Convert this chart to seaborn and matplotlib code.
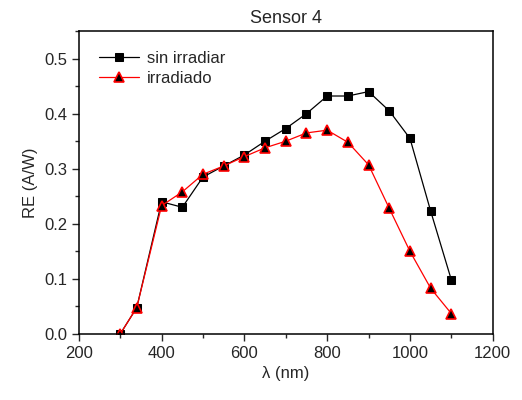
import numpy as np
import pandas as pd
import matplotlib
matplotlib.use("Agg")
import matplotlib.pyplot as plt
import seaborn as sns
from matplotlib.ticker import MultipleLocator

# === data ===
wavelength = [300, 340, 400, 450, 500, 550, 600, 650, 700, 750, 800, 850, 900, 950, 1000, 1050, 1100]
re_sin = [0.0, 0.048, 0.240, 0.230, 0.285, 0.305, 0.325, 0.350, 0.373, 0.400, 0.432, 0.432, 0.440, 0.405, 0.355, 0.223, 0.098]
re_irr = [0.0, 0.048, 0.233, 0.258, 0.290, 0.305, 0.322, 0.338, 0.350, 0.365, 0.370, 0.348, 0.307, 0.228, 0.150, 0.083, 0.037]

df = pd.concat([
    pd.DataFrame({"wl": wavelength, "re": re_sin, "serie": "sin irradiar"}),
    pd.DataFrame({"wl": wavelength, "re": re_irr, "serie": "irradiado"}),
], ignore_index=True)

# === plot ===
sns.set_style("ticks")
plt.rcParams["font.family"] = ["Liberation Sans", "DejaVu Sans"]

fig = plt.figure(figsize=(5.22, 4.0), dpi=100)
ax = fig.add_axes([0.151, 0.165, 0.793, 0.7575])

sns.lineplot(data=df[df.serie == "sin irradiar"], x="wl", y="re", ax=ax,
             color="black", lw=0.9, marker="s", markersize=5.8,
             markerfacecolor="black", markeredgecolor="black",
             label="sin irradiar")
sns.lineplot(data=df[df.serie == "irradiado"], x="wl", y="re", ax=ax,
             color="red", lw=0.9, marker="^", markersize=7,
             markerfacecolor="black", markeredgecolor="red", markeredgewidth=1.2,
             label="irradiado")

ax.set_xlim(200, 1200)
ax.set_ylim(0, 0.55)
ax.xaxis.set_major_locator(MultipleLocator(200))
ax.xaxis.set_minor_locator(MultipleLocator(100))
ax.yaxis.set_major_locator(MultipleLocator(0.1))
ax.yaxis.set_minor_locator(MultipleLocator(0.05))
ax.tick_params(which="major", direction="out", length=5, width=1, labelsize=12,
               top=False, right=False)
ax.tick_params(which="minor", direction="out", length=3, width=1, top=False, right=False)
for s in ax.spines.values():
    s.set_linewidth(1.1)
    s.set_color("black")

ax.set_xlabel("λ (nm)", fontsize=12)
ax.set_ylabel("RE (A/W)", fontsize=12)
ax.set_title("Sensor 4", fontsize=13, pad=6)

ax.legend(loc="upper left", frameon=False, fontsize=12, handlelength=2.4,
          handletextpad=0.5, borderaxespad=0.8, labelspacing=0.3)

fig.savefig("out.png", dpi=100)
